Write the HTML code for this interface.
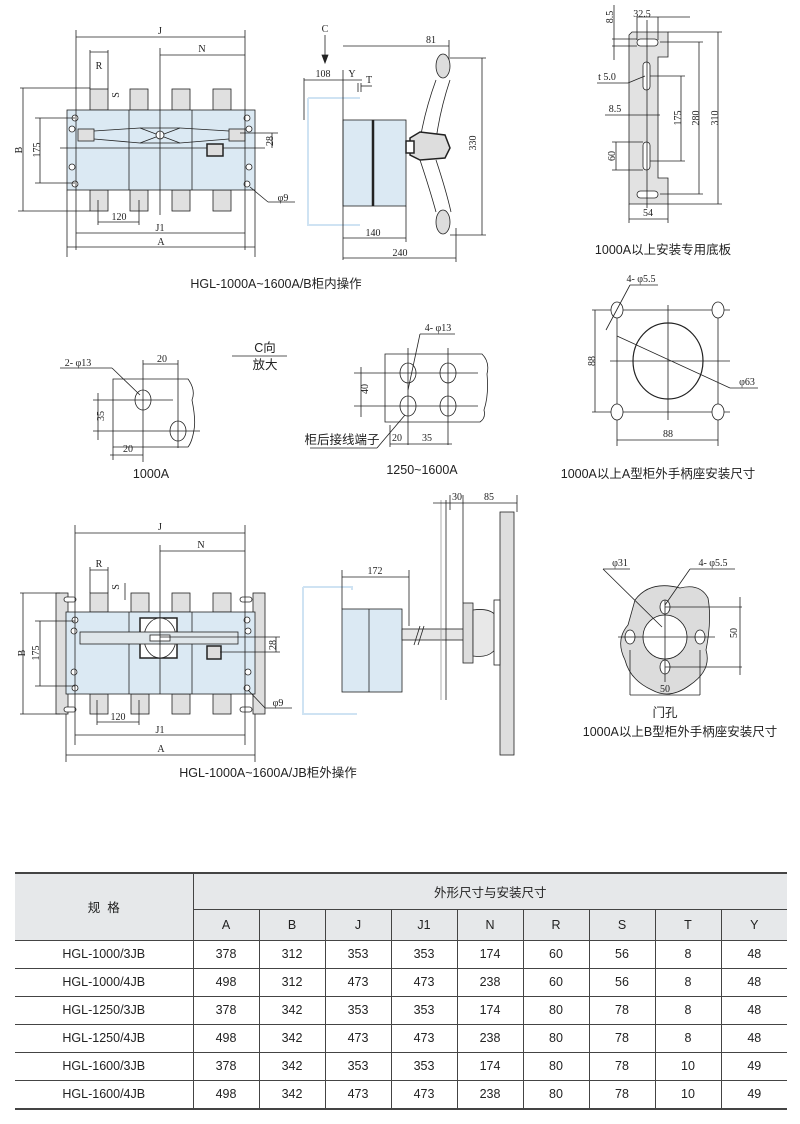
<!DOCTYPE html>
<html><head><meta charset="utf-8"><style>
html,body{margin:0;padding:0;background:#fff;}
svg{display:block}
.s{font-family:"Liberation Serif",serif;font-size:10px;fill:#222}
.c{font-family:"Liberation Sans","Noto Sans CJK SC",sans-serif;font-size:12.5px;fill:#222}
table{position:absolute;left:15px;top:872px;border-collapse:collapse;table-layout:fixed;font-family:"Liberation Sans","Noto Sans CJK SC",sans-serif;font-size:12.5px;color:#222;width:772px}
td{text-align:center;border:1px solid #444;padding:0;height:27px}
</style></head><body>
<div style="position:relative;width:800px;height:1124px;overflow:hidden">
<svg width="800" height="1124" viewBox="0 0 800 1124" xmlns="http://www.w3.org/2000/svg">
<g stroke="#222" stroke-width="0.8" fill="none">
<!-- Drawing 1 -->
<g fill="#e0e0e0"><rect x="90" y="89" width="18" height="21"/><rect x="130" y="89" width="18" height="21"/><rect x="172" y="89" width="18" height="21"/><rect x="213" y="89" width="18" height="21"/>
<rect x="90" y="190" width="18" height="21"/><rect x="130" y="190" width="18" height="21"/><rect x="172" y="190" width="18" height="21"/><rect x="213" y="190" width="18" height="21"/></g>
<rect x="67" y="110" width="188" height="80" fill="#dbe9f3"/>
<line x1="129" y1="110" x2="129" y2="190"/><line x1="192" y1="110" x2="192" y2="190"/>
<rect x="78" y="129" width="16" height="12" fill="#e0e0e0"/><rect x="229" y="129" width="16" height="12" fill="#e0e0e0"/>
<path d="M94 131 L140 128 L180 128 L229 131 M94 139 L140 143 L180 143 L229 139"/>
<path d="M140 128 L180 143 M140 143 L180 128"/><circle cx="160" cy="135" r="4" fill="#fff"/>
<line x1="60" y1="148" x2="265" y2="148"/>
<rect x="207" y="144" width="16" height="12" fill="#ddd" stroke-width="1.5"/>
<g fill="#fff"><circle cx="75" cy="118" r="3"/><circle cx="247" cy="118" r="3"/><circle cx="72" cy="129" r="3"/><circle cx="249" cy="129" r="3"/><circle cx="75" cy="184" r="3"/><circle cx="247" cy="184" r="3"/><circle cx="72" cy="167" r="3"/><circle cx="249" cy="167" r="3"/></g>
<line x1="76" y1="30" x2="76" y2="250"/><line x1="245" y1="30" x2="245" y2="250"/>
<line x1="76" y1="37" x2="245" y2="37"/><line x1="160" y1="48" x2="160" y2="215"/><line x1="160" y1="55" x2="245" y2="55"/>
<line x1="90" y1="52" x2="108" y2="52"/><line x1="90" y1="50" x2="90" y2="89"/><line x1="108" y1="50" x2="108" y2="89"/>
<line x1="23" y1="88" x2="23" y2="211"/><line x1="20" y1="88" x2="90" y2="88"/><line x1="18" y1="211" x2="90" y2="211"/>
<line x1="40" y1="118" x2="40" y2="183"/><line x1="35" y1="118" x2="75" y2="118"/><line x1="35" y1="183" x2="75" y2="183"/>
<line x1="272" y1="133" x2="272" y2="148"/><line x1="240" y1="133" x2="278" y2="133"/>
<line x1="250" y1="187" x2="268" y2="202"/><line x1="268" y1="202" x2="295" y2="202"/>
<line x1="98" y1="222" x2="139" y2="222"/><line x1="98" y1="200" x2="98" y2="225"/><line x1="139" y1="200" x2="139" y2="225"/>
<line x1="76" y1="233" x2="245" y2="233"/><line x1="67" y1="247" x2="255" y2="247"/><line x1="67" y1="190" x2="67" y2="257"/><line x1="255" y1="190" x2="255" y2="257"/>
<!-- Drawing 2 -->
<path d="M308 98 H360 M308 98 V225 H360" stroke="#cfe3f3" stroke-width="2"/>
<rect x="343" y="120" width="63" height="86" fill="#dbe9f3"/>
<line x1="373" y1="120" x2="373" y2="206" stroke-width="2.5"/>
<path d="M436 80 Q425 110 420 140 M450 80 Q440 110 436 140 M420 160 Q430 190 436 212 M436 160 Q446 190 451 212" />
<ellipse cx="443" cy="66" rx="7" ry="12" fill="#ddd"/><ellipse cx="443" cy="222" rx="7" ry="12" fill="#ddd"/>
<path d="M410 138 L420 132 L445 135 L450 148 L445 158 L420 160 L410 155Z" fill="#ddd" stroke-width="1.5"/>
<rect x="406" y="141" width="8" height="12" fill="#fff" stroke-width="1.5"/>
<line x1="343" y1="70" x2="343" y2="260"/><line x1="449" y1="40" x2="449" y2="60"/><line x1="343" y1="46" x2="449" y2="46"/>
<line x1="482" y1="58" x2="482" y2="235"/><line x1="450" y1="58" x2="486" y2="58"/><line x1="450" y1="235" x2="486" y2="235"/>
<line x1="304" y1="80" x2="343" y2="80"/><line x1="304" y1="78" x2="304" y2="120"/><line x1="343" y1="80" x2="362" y2="80"/>
<line x1="325" y1="35" x2="325" y2="62"/><path d="M322 55 L325 63 L328 55Z" fill="#222"/>
<line x1="358" y1="83" x2="358" y2="92"/><line x1="361" y1="83" x2="361" y2="92"/><line x1="361" y1="86" x2="372" y2="86"/>
<line x1="343" y1="238" x2="406" y2="238"/><line x1="406" y1="206" x2="406" y2="242"/>
<line x1="343" y1="258" x2="456" y2="258"/><line x1="456" y1="228" x2="456" y2="262"/>
<!-- Drawing 3 plate -->
<path d="M632 32 H668 V57 H658 V178 H668 V204 H629 V35Z" fill="#e2e2e2"/>
<rect x="637" y="39" width="21" height="7" rx="3.5" fill="#fff"/><rect x="643" y="62" width="7" height="28" rx="3.5" fill="#fff"/>
<rect x="643" y="142" width="7" height="28" rx="3.5" fill="#fff"/><rect x="637" y="191" width="21" height="7" rx="3.5" fill="#fff"/>
<line x1="647" y1="20" x2="647" y2="208"/>
<line x1="637" y1="17" x2="637" y2="40"/><line x1="658" y1="17" x2="658" y2="40"/><line x1="637" y1="17" x2="690" y2="17"/>
<line x1="614" y1="5" x2="614" y2="60"/><line x1="612" y1="39" x2="637" y2="39"/><line x1="612" y1="46" x2="637" y2="46"/>
<line x1="718" y1="32" x2="718" y2="204"/><line x1="668" y1="32" x2="722" y2="32"/><line x1="668" y1="204" x2="722" y2="204"/>
<line x1="699" y1="42" x2="699" y2="194"/><line x1="660" y1="42" x2="703" y2="42"/><line x1="660" y1="194" x2="703" y2="194"/>
<line x1="681" y1="76" x2="681" y2="161"/><line x1="650" y1="76" x2="685" y2="76"/><line x1="650" y1="161" x2="685" y2="161"/>
<line x1="616" y1="142" x2="616" y2="170"/><line x1="612" y1="142" x2="643" y2="142"/><line x1="612" y1="170" x2="643" y2="170"/>
<line x1="605" y1="115" x2="660" y2="115"/><line x1="628" y1="83" x2="645" y2="76"/><line x1="597" y1="83" x2="628" y2="83"/>
<line x1="629" y1="219" x2="668" y2="219"/><line x1="629" y1="204" x2="629" y2="223"/><line x1="668" y1="204" x2="668" y2="223"/>
<!-- Drawing 4 -->
<path d="M113 379 H188 Q196 390 192 400 Q196 420 194 430 Q192 442 188 447 H113Z" fill="#fff"/>
<ellipse cx="143" cy="400" rx="8" ry="10"/><ellipse cx="178" cy="431" rx="8" ry="10"/>
<line x1="93" y1="400" x2="173" y2="400"/><line x1="93" y1="431" x2="200" y2="431"/>
<line x1="143" y1="360" x2="143" y2="462"/><line x1="178" y1="360" x2="178" y2="448"/><line x1="143" y1="364" x2="178" y2="364"/>
<line x1="98" y1="393" x2="98" y2="440"/><line x1="110" y1="455" x2="143" y2="455"/><line x1="113" y1="447" x2="113" y2="460"/>
<line x1="60" y1="368" x2="112" y2="368"/><line x1="112" y1="368" x2="140" y2="395"/>
<line x1="232" y1="356" x2="287" y2="356"/>
<!-- Drawing 5 -->
<path d="M385 354 H482 Q490 362 487 374 Q489 395 484 410 Q486 418 480 422 H385Z" fill="#fff"/>
<ellipse cx="408" cy="373" rx="8" ry="10"/><ellipse cx="448" cy="373" rx="8" ry="10"/><ellipse cx="408" cy="406" rx="8" ry="10"/><ellipse cx="448" cy="406" rx="8" ry="10"/>
<line x1="354" y1="373" x2="478" y2="373"/><line x1="354" y1="406" x2="478" y2="406"/>
<line x1="408" y1="348" x2="408" y2="445"/><line x1="448" y1="348" x2="448" y2="445"/>
<line x1="361" y1="367" x2="361" y2="417"/><line x1="390" y1="444" x2="452" y2="444"/><line x1="390" y1="425" x2="390" y2="447"/>
<line x1="408" y1="390" x2="420" y2="334"/><line x1="420" y1="334" x2="455" y2="334"/>
<line x1="310" y1="448" x2="377" y2="448"/><line x1="377" y1="448" x2="405" y2="415"/>
<!-- Drawing 6 -->
<line x1="617" y1="303" x2="617" y2="446"/><line x1="718" y1="303" x2="718" y2="446"/><line x1="592" y1="310" x2="730" y2="310"/><line x1="592" y1="412" x2="730" y2="412"/>
<line x1="610" y1="361" x2="730" y2="361"/><line x1="668" y1="305" x2="668" y2="420"/>
<ellipse cx="617" cy="310" rx="6" ry="8" fill="#fff"/><ellipse cx="718" cy="310" rx="6" ry="8" fill="#fff"/><ellipse cx="617" cy="412" rx="6" ry="8" fill="#fff"/><ellipse cx="718" cy="412" rx="6" ry="8" fill="#fff"/>
<ellipse cx="668" cy="361" rx="35" ry="38" stroke-width="1.2"/>
<line x1="617" y1="336" x2="730" y2="388"/><line x1="730" y1="388" x2="758" y2="388"/>
<line x1="595" y1="310" x2="595" y2="412"/><line x1="617" y1="440" x2="718" y2="440"/>
<line x1="606" y1="330" x2="630" y2="285"/><line x1="630" y1="285" x2="658" y2="285"/>
<!-- Drawing 7 -->
<rect x="56" y="593" width="12" height="121" fill="#dedede"/><rect x="253" y="593" width="12" height="121" fill="#dedede"/>
<g fill="#e0e0e0"><rect x="90" y="593" width="18" height="19"/><rect x="131" y="593" width="18" height="19"/><rect x="172" y="593" width="18" height="19"/><rect x="213" y="593" width="18" height="19"/>
<rect x="90" y="694" width="18" height="20"/><rect x="131" y="694" width="18" height="20"/><rect x="172" y="694" width="18" height="20"/><rect x="213" y="694" width="18" height="20"/></g>
<rect x="66" y="612" width="189" height="82" fill="#dbe9f3"/>
<line x1="129" y1="612" x2="129" y2="694"/><line x1="192" y1="612" x2="192" y2="694"/>
<rect x="140" y="618" width="37" height="40" fill="#fff" stroke-width="1.5"/>
<ellipse cx="160" cy="638" rx="16" ry="20" fill="#fff"/>
<rect x="80" y="632" width="158" height="12" fill="#dfe6ea"/>
<rect x="150" y="635" width="20" height="6" fill="#fff"/>
<rect x="207" y="646" width="14" height="13" fill="#ddd" stroke-width="1.5"/>
<g fill="#fff"><circle cx="75" cy="620" r="3"/><circle cx="247" cy="620" r="3"/><circle cx="74" cy="631" r="3"/><circle cx="248" cy="631" r="3"/><circle cx="75" cy="688" r="3"/><circle cx="247" cy="688" r="3"/><circle cx="74" cy="672" r="3"/><circle cx="248" cy="672" r="3"/>
<rect x="64" y="597" width="12" height="5" rx="2.5"/><rect x="240" y="597" width="12" height="5" rx="2.5"/><rect x="64" y="707" width="12" height="5" rx="2.5"/><rect x="240" y="707" width="12" height="5" rx="2.5"/></g>
<line x1="75" y1="525" x2="75" y2="745"/><line x1="245" y1="525" x2="245" y2="745"/>
<line x1="75" y1="533" x2="245" y2="533"/><line x1="160" y1="545" x2="160" y2="694"/><line x1="160" y1="551" x2="245" y2="551"/>
<line x1="90" y1="570" x2="108" y2="570"/><line x1="90" y1="567" x2="90" y2="593"/><line x1="108" y1="567" x2="108" y2="593"/><line x1="125" y1="583" x2="125" y2="600"/>
<line x1="23" y1="593" x2="23" y2="714"/><line x1="20" y1="593" x2="60" y2="593"/><line x1="20" y1="714" x2="60" y2="714"/>
<line x1="40" y1="621" x2="40" y2="686"/><line x1="35" y1="621" x2="75" y2="621"/><line x1="35" y1="686" x2="75" y2="686"/>
<line x1="276" y1="637" x2="276" y2="652"/><line x1="160" y1="637" x2="280" y2="637"/><line x1="220" y1="652" x2="280" y2="652"/>
<line x1="248" y1="690" x2="265" y2="708"/><line x1="265" y1="708" x2="292" y2="708"/>
<line x1="97" y1="722" x2="139" y2="722"/><line x1="97" y1="700" x2="97" y2="725"/><line x1="139" y1="700" x2="139" y2="725"/>
<line x1="75" y1="735" x2="245" y2="735"/><line x1="66" y1="755" x2="255" y2="755"/><line x1="66" y1="714" x2="66" y2="762"/><line x1="255" y1="714" x2="255" y2="762"/>
<!-- side view bottom -->
<path d="M303 587 H352 V590 M303 587 V714 H357" stroke="#cfe3f3" stroke-width="2"/>
<rect x="342" y="609" width="60" height="83" fill="#dbe9f3"/><line x1="369" y1="609" x2="369" y2="692"/>
<rect x="402" y="629" width="63" height="11" fill="#e6e6e6"/><line x1="414" y1="645" x2="420" y2="626"/><line x1="418" y1="645" x2="424" y2="626"/>
<line x1="446" y1="500" x2="446" y2="700"/><line x1="441" y1="500" x2="441" y2="700" stroke="#999"/>
<rect x="463" y="603" width="10" height="60" fill="#ddd"/><path d="M473 610 Q500 606 500 630 Q500 660 473 656Z" fill="#e8e8e8"/>
<rect x="500" y="512" width="14" height="243" fill="#dedede"/>
<rect x="494" y="600" width="6" height="65" fill="#fff"/>
<line x1="342" y1="570" x2="342" y2="609"/><line x1="409" y1="570" x2="409" y2="626"/><line x1="342" y1="577" x2="409" y2="577"/>
<line x1="433" y1="503" x2="517" y2="503"/><line x1="450" y1="495" x2="450" y2="510"/><line x1="463" y1="495" x2="463" y2="603"/><line x1="517" y1="495" x2="517" y2="512"/>
<!-- Drawing 8 -->
<path d="M635 600 Q650 580 680 588 Q700 583 708 598 Q712 620 706 650 Q712 670 690 685 Q670 700 652 690 Q630 680 625 660 Q615 640 628 625Z" fill="#dcdcdc"/>
<circle cx="665" cy="637" r="22" fill="#fff"/>
<g fill="#fff"><ellipse cx="665" cy="607" rx="5" ry="7"/><ellipse cx="665" cy="667" rx="5" ry="7"/><ellipse cx="630" cy="637" rx="5" ry="7"/><ellipse cx="700" cy="637" rx="5" ry="7"/></g>
<line x1="618" y1="637" x2="715" y2="637"/><line x1="665" y1="600" x2="665" y2="682"/>
<line x1="665" y1="607" x2="742" y2="607"/><line x1="665" y1="667" x2="742" y2="667"/><line x1="740" y1="597" x2="740" y2="675"/>
<line x1="630" y1="650" x2="630" y2="695"/><line x1="700" y1="650" x2="700" y2="695"/><line x1="630" y1="695" x2="700" y2="695"/>
<line x1="603" y1="569" x2="662" y2="627"/><line x1="603" y1="569" x2="630" y2="569"/>
<line x1="665" y1="605" x2="690" y2="569"/><line x1="690" y1="569" x2="735" y2="569"/>
</g>
<!-- Labels -->
<g class="s" text-anchor="middle">
<text x="160" y="34">J</text><text x="202" y="52">N</text><text x="99" y="69">R</text><text x="118" y="100" transform="rotate(-90 116 97)">S</text>
<text x="19" y="153" transform="rotate(-90 19 150)">B</text><text x="37" y="153" transform="rotate(-90 37 150)">175</text>
<text x="270" y="144" transform="rotate(-90 270 141)">28</text><text x="283" y="201">φ9</text>
<text x="119" y="220">120</text><text x="160" y="231">J1</text><text x="161" y="245">A</text>
<text x="325" y="32">C</text><text x="323" y="77">108</text><text x="352" y="77">Y</text><text x="369" y="83">T</text>
<text x="431" y="43">81</text><text x="480" y="147" transform="rotate(-90 476 147)">330</text>
<text x="373" y="236">140</text><text x="400" y="256">240</text>
<text x="642" y="17">32.5</text><text x="610" y="20" transform="rotate(-90 610 17)">8.5</text><text x="607" y="80">t 5.0</text><text x="615" y="112">8.5</text>
<text x="678" y="121" transform="rotate(-90 678 118)">175</text><text x="696" y="121" transform="rotate(-90 696 118)">280</text><text x="715" y="121" transform="rotate(-90 715 118)">310</text>
<text x="612" y="159" transform="rotate(-90 612 156)">60</text><text x="648" y="216">54</text>
<text x="162" y="362">20</text><text x="78" y="366">2- φ13</text><text x="101" y="419" transform="rotate(-90 101 416)">35</text><text x="128" y="452">20</text>
<text x="365" y="392" transform="rotate(-90 365 389)">40</text><text x="438" y="331">4- φ13</text><text x="397" y="441">20</text><text x="427" y="441">35</text>
<text x="641" y="282">4- φ5.5</text><text x="592" y="364" transform="rotate(-90 592 361)">88</text><text x="747" y="385">φ63</text><text x="668" y="437">88</text>
<text x="160" y="530">J</text><text x="201" y="548">N</text><text x="99" y="567">R</text><text x="118" y="592" transform="rotate(-90 116 589)">S</text>
<text x="22" y="656" transform="rotate(-90 22 653)">B</text><text x="36" y="656" transform="rotate(-90 36 653)">175</text>
<text x="273" y="648" transform="rotate(-90 273 645)">28</text><text x="278" y="706">φ9</text>
<text x="118" y="720">120</text><text x="160" y="733">J1</text><text x="161" y="752">A</text>
<text x="375" y="574">172</text><text x="457" y="500">30</text><text x="489" y="500">85</text>
<text x="620" y="566">φ31</text><text x="713" y="566">4- φ5.5</text><text x="738" y="640" transform="rotate(-90 734 637)">50</text><text x="665" y="692">50</text>
</g>
<g class="c" text-anchor="middle">
<text x="276" y="288">HGL-1000A~1600A/B柜内操作</text>
<text x="663" y="254">1000A以上安装专用底板</text>
<text x="265" y="352">C向</text><text x="265" y="369">放大</text>
<text x="151" y="478">1000A</text><text x="342" y="444">柜后接线端子</text><text x="422" y="474">1250~1600A</text>
<text x="658" y="478">1000A以上A型柜外手柄座安装尺寸</text>
<text x="268" y="777">HGL-1000A~1600A/JB柜外操作</text>
<text x="665" y="717">门孔</text><text x="680" y="736">1000A以上B型柜外手柄座安装尺寸</text>
</g>
</svg>
<table>
<colgroup><col style="width:178px"><col style="width:66px"><col style="width:66px"><col style="width:66px"><col style="width:66px"><col style="width:66px"><col style="width:66px"><col style="width:66px"><col style="width:66px"><col style="width:66px"></colgroup>
<tr style="height:36px"><td rowspan="2" style="background:#e6e8ea;border-left:none;border-top:2px solid #444">规 &nbsp;格</td><td colspan="9" style="background:#e6e8ea;border-right:none;border-top:2px solid #444">外形尺寸与安装尺寸</td></tr>
<tr style="height:31px;background:#e6e8ea"><td>A</td><td>B</td><td>J</td><td>J1</td><td>N</td><td>R</td><td>S</td><td>T</td><td style="border-right:none">Y</td></tr>
<tr><td style="border-left:none">HGL-1000/3JB</td><td>378</td><td>312</td><td>353</td><td>353</td><td>174</td><td>60</td><td>56</td><td>8</td><td style="border-right:none">48</td></tr>
<tr><td style="border-left:none">HGL-1000/4JB</td><td>498</td><td>312</td><td>473</td><td>473</td><td>238</td><td>60</td><td>56</td><td>8</td><td style="border-right:none">48</td></tr>
<tr><td style="border-left:none">HGL-1250/3JB</td><td>378</td><td>342</td><td>353</td><td>353</td><td>174</td><td>80</td><td>78</td><td>8</td><td style="border-right:none">48</td></tr>
<tr><td style="border-left:none">HGL-1250/4JB</td><td>498</td><td>342</td><td>473</td><td>473</td><td>238</td><td>80</td><td>78</td><td>8</td><td style="border-right:none">48</td></tr>
<tr><td style="border-left:none">HGL-1600/3JB</td><td>378</td><td>342</td><td>353</td><td>353</td><td>174</td><td>80</td><td>78</td><td>10</td><td style="border-right:none">49</td></tr>
<tr><td style="border-left:none;border-bottom:2px solid #444">HGL-1600/4JB</td><td style="border-bottom:2px solid #444">498</td><td style="border-bottom:2px solid #444">342</td><td style="border-bottom:2px solid #444">473</td><td style="border-bottom:2px solid #444">473</td><td style="border-bottom:2px solid #444">238</td><td style="border-bottom:2px solid #444">80</td><td style="border-bottom:2px solid #444">78</td><td style="border-bottom:2px solid #444">10</td><td style="border-right:none;border-bottom:2px solid #444">49</td></tr>
</table>
</div>
</body></html>
